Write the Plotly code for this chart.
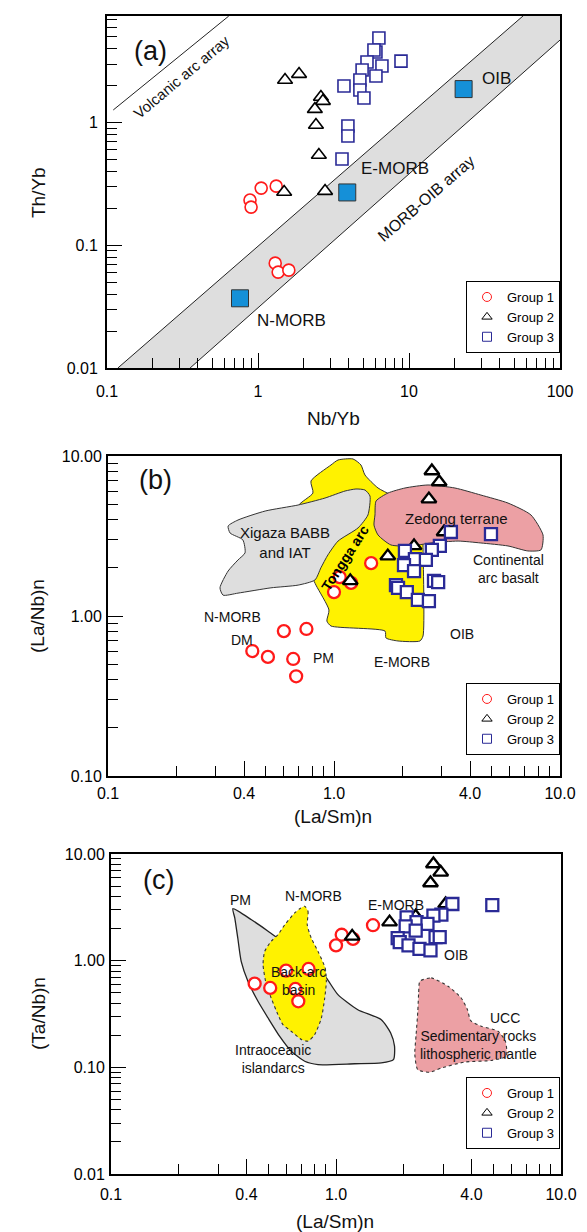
import numpy as np
import plotly.graph_objects as go

FONT = "Liberation Sans, Arial, Helvetica, sans-serif"
W, H = 587, 1232

# ---------------- Panel (a): Th/Yb vs Nb/Yb ----------------
a_g1_nbyb = [0.885, 0.90, 1.05, 1.32, 1.30, 1.36, 1.60]
a_g1_thyb = [0.234, 0.205, 0.293, 0.304, 0.0716, 0.0605, 0.0628]
a_g2_nbyb = [1.51, 1.87, 2.61, 2.69, 2.38, 2.42, 2.53, 1.49, 2.78]
a_g2_thyb = [2.23, 2.49, 1.62, 1.50, 1.29, 0.957, 0.545, 0.272, 0.277]
a_g3_nbyb = [6.32, 6.04, 5.86, 5.27, 6.62, 8.85, 4.89, 6.04, 4.73, 3.71, 4.73, 5.03, 3.94, 3.94, 3.60]
a_g3_thyb = [4.91, 3.77, 3.92, 3.13, 2.90, 3.18, 2.69, 2.40, 2.23, 1.99, 1.85, 1.59, 0.94, 0.78, 0.506]
ref_names = ["N-MORB", "E-MORB", "OIB"]
ref_nbyb = [0.76, 3.9, 23.0]
ref_thyb = [0.037, 0.27, 1.88]
ref_label_x = [1.66, 8.07, 37.7]
ref_label_y = [0.0245, 0.426, 2.31]
volc_x = [0.11, 0.64]
volc_y = [1.27, 7.4]
morb_upper_x = [0.118, 75.2]
morb_upper_y = [0.01, 10.0]
morb_lower_x = [0.355, 100.0]
morb_lower_y = [0.01, 4.72]

# ---------------- Panel (b) & (c): shared (La/Sm)n ----------------
g1_lasm = [1.06, 1.19, 1.00, 1.46, 0.60, 0.755, 0.435, 0.51, 0.66, 0.68]
g1_lanb = [1.75, 1.61, 1.41, 2.14, 0.805, 0.83, 0.604, 0.555, 0.539, 0.42]
g1_tanb = [1.75, 1.60, 1.39, 2.15, 0.806, 0.836, 0.609, 0.555, 0.543, 0.416]
g2_lasm = [1.18, 1.73, 2.26, 3.07, 2.63, 2.71, 2.92]
g2_lanb = [1.66, 2.37, 2.74, 3.35, 5.38, 8.06, 6.88]
g2_tanb = [1.69, 2.30, 2.61, 3.40, 5.35, 8.06, 6.74]
g3_lasm = [3.29, 4.95, 2.94, 2.71, 2.06, 2.28, 2.55, 2.04, 2.26, 2.77, 2.89, 1.88, 1.92, 2.10, 2.35, 2.63]
g3_lanb = [3.35, 3.25, 2.74, 2.59, 2.55, 2.27, 2.24, 2.08, 1.91, 1.66, 1.63, 1.56, 1.50, 1.41, 1.26, 1.24]
g3_tanb = [3.40, 3.31, 2.70, 2.64, 2.55, 2.30, 2.21, 2.10, 1.91, 1.66, 1.66, 1.63, 1.49, 1.39, 1.29, 1.25]

# field outlines, panel (b)
tonga_x = [0.694, 0.807, 0.791, 0.970, 1.042, 1.214, 1.316, 1.371, 1.566, 1.786, 2.124, 2.477, 2.477,
           2.477, 2.40, 1.919, 1.698, 1.682, 0.970, 0.93, 0.95, 0.832, 0.767, 0.694]
tonga_y = [4.87, 5.87, 6.98, 8.79, 9.44, 9.58, 8.79, 7.61, 6.31, 5.70, 4.73, 3.55, 2.78,
           0.75, 0.698, 0.698, 0.729, 0.805, 0.866, 0.93, 1.09, 1.56, 2.00, 3.07]
xig_x = [1.371, 1.443, 1.413, 1.277, 1.042, 0.940, 0.875, 0.824, 0.694, 0.526, 0.376, 0.323, 0.313,
         0.340, 0.376, 0.404, 0.395, 0.347, 0.340, 0.376, 0.496, 0.694, 0.912, 1.119, 1.251]
xig_y = [6.13, 5.62, 4.28, 3.55, 2.94, 2.41, 2.00, 1.68, 1.56, 1.50, 1.39, 1.35, 1.50,
         1.91, 2.24, 2.48, 2.99, 3.30, 3.65, 3.98, 4.53, 4.94, 5.46, 6.04, 6.22]
zed_x = [1.518, 1.535, 1.734, 2.061, 2.606, 3.428, 4.467, 5.888, 7.44, 8.41, 8.24, 7.21, 5.888,
         4.467, 3.540, 2.686, 2.193, 1.786, 1.566, 1.503]
zed_y = [4.28, 5.23, 5.87, 6.31, 6.59, 6.31, 5.70, 5.08, 4.28, 3.21, 2.59, 2.55, 2.74,
         2.86, 2.94, 2.86, 2.74, 2.78, 3.21, 3.70]

# field outlines, panel (c)
ioa_x = [0.348, 0.421, 0.499, 0.562, 0.678, 0.803, 0.906, 1.02, 1.25, 1.59, 1.75, 1.82, 1.80, 1.59,
         1.21, 0.832, 0.726, 0.632, 0.562, 0.499, 0.45, 0.406, 0.379, 0.366, 0.355]
ioa_y = [3.07, 2.42, 1.89, 1.57, 1.18, 0.918, 0.689, 0.48, 0.347, 0.28, 0.21, 0.158, 0.118, 0.11,
         0.108, 0.106, 0.114, 0.142, 0.195, 0.29, 0.416, 0.641, 0.986, 1.63, 2.51]
bab_x = [0.726, 0.751, 0.745, 0.776, 0.832, 0.895, 0.906, 0.891, 0.861, 0.803, 0.751, 0.702, 0.632,
         0.581, 0.552, 0.515, 0.49, 0.474, 0.482, 0.515, 0.552, 0.592, 0.655, 0.69]
bab_y = [3.24, 2.90, 2.17, 1.63, 1.22, 0.855, 0.641, 0.447, 0.29, 0.202, 0.176, 0.182, 0.218,
         0.251, 0.312, 0.447, 0.596, 0.918, 1.22, 1.52, 1.75, 2.17, 2.80, 3.07]
sed_x = [2.36, 2.65, 3.15, 3.60, 3.84, 3.97, 4.42, 5.25, 5.66, 5.71, 4.90, 3.73, 2.94, 2.61, 2.31,
         2.24, 2.27, 2.31, 2.33]
sed_y = [0.641, 0.689, 0.575, 0.447, 0.347, 0.274, 0.243, 0.218, 0.176, 0.127, 0.116, 0.112, 0.0986,
         0.09, 0.095, 0.132, 0.202, 0.336, 0.498]

# label texts and positions (data units)
b_labels = ["Xigaza BABB<br>and IAT", "Zedong terrane", "Continental<br>arc basalt",
            "N-MORB", "DM", "PM", "E-MORB", "OIB"]
b_lab_x = [0.607, 3.47, 5.89, 0.357, 0.391, 0.903, 2.0, 3.68]
b_lab_y = [2.86, 4.04, 1.97, 0.986, 0.708, 0.546, 0.516, 0.772]
b_lab_size = [15, 15, 14, 14, 14, 14, 14, 14]
c_labels = ["PM", "N-MORB", "E-MORB", "OIB", "Back-arc<br>basin", "Intraoceanic<br>islandarcs",
            "UCC", "Sedimentary rocks<br>lithospheric mantle"]
c_lab_x = [0.378, 0.798, 1.85, 3.41, 0.678, 0.525, 5.64, 4.32]
c_lab_y = [3.71, 4.04, 3.33, 1.13, 0.645, 0.12, 0.29, 0.162]
c_lab_size = [14, 14, 14, 14, 14, 14, 14, 14]

group_names = ["Group 1", "Group 2", "Group 3"]

# ---------------- styles ----------------
RED = "#ff1a1a"
NAVY = "#2a2a96"
BLUE_FILL = "#1590d8"
GRAY = "#dedede"
YELLOW = "#fff200"
PINK = "#eca0a4"
SPECS = [("circle", 12, RED), ("triangle-up", 13, "black"), ("square", 12, NAVY)]


def closed(v):
    return list(v) + [v[0]]


fig = go.Figure()

# ---- panel (a)
fig.add_trace(go.Scatter(
    x=[morb_upper_x[0], morb_upper_x[1], 100.0, morb_lower_x[1], morb_lower_x[0], morb_upper_x[0]],
    y=[morb_upper_y[0], morb_upper_y[1], morb_upper_y[1], morb_lower_y[1], morb_lower_y[0], morb_upper_y[0]],
    mode="lines", fill="toself", fillcolor=GRAY, line=dict(width=0, color=GRAY),
    hoverinfo="skip", showlegend=False, xaxis="x", yaxis="y"))
for lx, ly in [(morb_upper_x, morb_upper_y), (morb_lower_x, morb_lower_y), (volc_x, volc_y)]:
    fig.add_trace(go.Scatter(x=lx, y=ly, mode="lines", line=dict(color="#222", width=1),
                             hoverinfo="skip", showlegend=False, xaxis="x", yaxis="y"))
fig.add_trace(go.Scatter(x=ref_nbyb, y=ref_thyb, mode="markers",
                         marker=dict(symbol="square", size=17, color=BLUE_FILL,
                                     line=dict(color="#333", width=1)),
                         showlegend=False, xaxis="x", yaxis="y"))


def group_traces(xs, ys, xa, ya, leg, lw):
    for (sym, sz, col), x, y, nm in zip(SPECS, xs, ys, group_names):
        fig.add_trace(go.Scatter(
            x=x, y=y, mode="markers", name=nm, showlegend=False,
            marker=dict(symbol=sym, size=sz, color="white", line=dict(color=col, width=lw)),
            xaxis=xa, yaxis=ya))
    # legend entries: small thin symbols as in the original key
    for (sym, sz, col), nm in zip(SPECS, group_names):
        fig.add_trace(go.Scatter(
            x=[None], y=[None], mode="markers", name=nm, legend=leg,
            marker=dict(symbol=sym, size=9, color="white", line=dict(color=col, width=1)),
            xaxis=xa, yaxis=ya))


group_traces([a_g1_nbyb, a_g2_nbyb, a_g3_nbyb], [a_g1_thyb, a_g2_thyb, a_g3_thyb],
             "x", "y", "legend", 1.6)

# ---- panel (b)
for px_, py_, fc in [(tonga_x, tonga_y, YELLOW), (xig_x, xig_y, GRAY), (zed_x, zed_y, PINK)]:
    fig.add_trace(go.Scatter(x=closed(px_), y=closed(py_), mode="lines", fill="toself",
                             fillcolor=fc, line=dict(color="#333", width=1, shape="spline", smoothing=0.6),
                             hoverinfo="skip", showlegend=False, xaxis="x2", yaxis="y2"))
group_traces([g1_lasm, g2_lasm, g3_lasm], [g1_lanb, g2_lanb, g3_lanb], "x2", "y2", "legend2", 2.3)

# ---- panel (c)
fig.add_trace(go.Scatter(x=closed(ioa_x), y=closed(ioa_y), mode="lines", fill="toself",
                         fillcolor=GRAY, line=dict(color="#222", width=1.3, shape="spline", smoothing=0.6),
                         hoverinfo="skip", showlegend=False, xaxis="x3", yaxis="y3"))
for px_, py_, fc in [(bab_x, bab_y, YELLOW), (sed_x, sed_y, PINK)]:
    fig.add_trace(go.Scatter(x=closed(px_), y=closed(py_), mode="lines", fill="toself",
                             fillcolor=fc,
                             line=dict(color="#333", width=1.1, dash="dot", shape="spline", smoothing=0.6),
                             hoverinfo="skip", showlegend=False, xaxis="x3", yaxis="y3"))
group_traces([g1_lasm, g2_lasm, g3_lasm], [g1_tanb, g2_tanb, g3_tanb], "x3", "y3", "legend3", 2.3)


# ---------------- axes ----------------
def minor_vals(lo, hi):
    out = []
    for e in range(lo, hi):
        for m in range(2, 10):
            out.append(m * 10.0 ** e)
    return out


def log_axis(rng, tickvals, ticktext, minors, domain, anchor, standoff=0):
    return dict(type="log", range=rng, domain=domain, anchor=anchor, automargin=False,
                showline=True, linecolor="black", linewidth=2, mirror=True,
                ticks="inside", ticklen=15, tickwidth=1.3, tickcolor="black",
                tickmode="array", tickvals=tickvals, ticktext=ticktext,
                minor=dict(ticks="inside", ticklen=10, tickwidth=1.1, tickcolor="black",
                           tickvals=minors, showgrid=False),
                showgrid=False, zeroline=False, ticklabelstandoff=standoff,
                tickfont=dict(family=FONT, size=16, color="black"))


xd_a = [99 / W, 552 / W]
xd_b = [100 / W, 552 / W]
xd_c = [103 / W, 553 / W]
yd_a = [1 - 360 / H, 1 - 8 / H]
yd_b = [1 - 768 / H, 1 - 448 / H]
yd_c = [1 - 1166 / H, 1 - 846 / H]

lasm_vals = [0.1, 0.4, 1.0, 4.0, 10.0]
lasm_text = ["0.1", "0.4", "1.0", "4.0", "10.0"]
lasm_minor = [v for v in minor_vals(-1, 1) if v not in (0.4, 4.0)]

fig.update_layout(
    xaxis=log_axis([-1, 2], [0.1, 1, 10, 100], ["0.1", "1", "10", "100"], minor_vals(-1, 2), xd_a, "y", 8),
    yaxis=log_axis([-2, 0.87], [0.01, 0.1, 1], ["0.01", "0.1", "1"], minor_vals(-2, 1), yd_a, "x", 4),
    xaxis2=log_axis([-1, 1], lasm_vals, lasm_text, lasm_minor, xd_b, "y2", 2),
    yaxis2=log_axis([-1, 1], [0.1, 1, 10], ["0.10", "1.00", "10.00"], minor_vals(-1, 1), yd_b, "x2", 1),
    xaxis3=log_axis([-1, 1], lasm_vals, lasm_text, lasm_minor, xd_c, "y3", 5),
    yaxis3=log_axis([-2, 1], [0.01, 0.1, 1, 10], ["0.01", "0.10", "1.00", "10.00"], minor_vals(-2, 1), yd_c, "x3", 1),
)

# ---------------- annotations ----------------
ann = []


def A(text, x, y, xref, yref, size=13, angle=0, bold=False, color="#111"):
    ann.append(dict(text=("<b>%s</b>" % text) if bold else text, x=x, y=y, xref=xref, yref=yref,
                    showarrow=False, textangle=angle, xanchor="center", yanchor="middle",
                    font=dict(family=FONT, size=size, color=color)))


L = np.log10
# panel (a)
A("(a)", L(0.193), L(3.85), "x", "y", size=27)
A("Volcanic arc array", L(0.314), L(2.36), "x", "y", size=15, angle=-40)
A("MORB-OIB array", L(12.97), L(0.243), "x", "y", size=16, angle=-41)
for nm, lx, ly in zip(ref_names, ref_label_x, ref_label_y):
    A(nm, L(lx), L(ly), "x", "y", size=17)
# panel (b)
A("(b)", L(0.163), L(7.08), "x2", "y2", size=27)
for t, lx, ly, s in zip(b_labels, b_lab_x, b_lab_y, b_lab_size):
    A(t, L(lx), L(ly), "x2", "y2", size=s)
A("Tongga arc", L(1.12), L(2.30), "x2", "y2", size=14, angle=-57, bold=True, color="black")
# panel (c)
A("(c)", L(0.162), L(5.71), "x3", "y3", size=27)
for t, lx, ly, s in zip(c_labels, c_lab_x, c_lab_y, c_lab_size):
    A(t, L(lx), L(ly), "x3", "y3", size=s)

# axis titles (paper coordinates)
A("Nb/Yb", 325 / W, 1 - 410 / H, "paper", "paper", size=19)
A("Th/Yb", 30 / W, 1 - 185 / H, "paper", "paper", size=19, angle=-90)
A("(La/Sm)n", 325 / W, 1 - 808 / H, "paper", "paper", size=19)
A("(La/Nb)n", 30 / W, 1 - 608 / H, "paper", "paper", size=19, angle=-90)
A("(La/Sm)n", 327 / W, 1 - 1213 / H, "paper", "paper", size=19)
A("(Ta/Nb)n", 30 / W, 1 - 1006 / H, "paper", "paper", size=19, angle=-90)


def legend_box(ytop):
    return dict(x=552 / W, xanchor="right", y=ytop, yanchor="top", bgcolor="white",
                bordercolor="black", borderwidth=1, tracegroupgap=0, itemsizing="trace",
                font=dict(family=FONT, size=13, color="black"))


fig.update_layout(
    width=W, height=H, margin=dict(l=0, r=0, t=0, b=0),
    paper_bgcolor="white", plot_bgcolor="white",
    font=dict(family=FONT, color="black"),
    annotations=ann,
    legend=legend_box(1 - 273 / H),
    legend2=legend_box(1 - 675 / H),
    legend3=legend_box(1 - 1069 / H),
)

fig.write_html("out.html")
